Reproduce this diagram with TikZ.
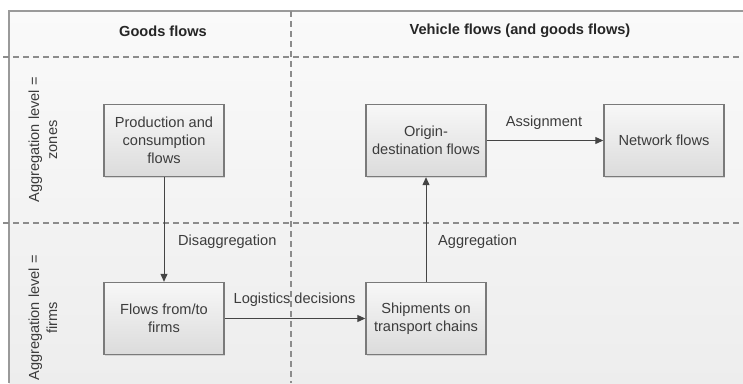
\documentclass[tikz,border=0pt]{standalone}
\usepackage{fontspec}
\setmainfont{Liberation Sans}
\usetikzlibrary{arrows.meta,shadows}
\definecolor{txt}{HTML}{3C3C3C}
\definecolor{frame}{HTML}{9A9A9A}
\definecolor{dash}{HTML}{8C8C8C}
\definecolor{boxline}{HTML}{7A7A7A}
\definecolor{arrowc}{HTML}{444444}
\tikzset{
  base/.style={font=\fontsize{14.6}{18}\selectfont, text=txt},
  flowbox/.style={base, draw=boxline, line width=1.4pt, minimum width=120pt, minimum height=72pt,
    align=center, top color=white!97!black, bottom color=white!86!black, inner sep=2pt,
    drop shadow={shadow xshift=1pt, shadow yshift=-1pt, opacity=0.25}},
  lbl/.style={base, inner sep=0pt},
  head/.style={base, font=\fontsize{14.6}{18}\selectfont\bfseries, text=black!85},
  side/.style={base, rotate=90, align=center},
  divider/.style={draw=dash, line width=1.3pt, dash pattern=on 6pt off 4pt},
  flow/.style={draw=arrowc, line width=1pt, -{Triangle[length=8pt,width=7pt]}}
}
\begin{document}
\begin{tikzpicture}[x=1pt,y=-1pt]
\useasboundingbox (0,0) rectangle (743,383);
\fill[white] (0,0) rectangle (743,383);
\shade[top color=white!98!black, bottom color=white!93!black] (9,11) rectangle (743,383);
% frame
\draw[frame, line width=1.6pt] (9,383) -- (9,11) -- (743,11);
% dividers
\draw[divider] (3,57) -- (743,57);
\draw[divider] (3,223) -- (743,223);
\draw[divider] (291,11) -- (291,383);
% headers
\node[head] (h1) at (163,31) {Goods flows};
\node[head] (h2) at (520,31) {Vehicle flows (and goods flows)};
% side labels
\node[side] (s1) at (43,140) {Aggregation level =\\zones};
\node[side] (s2) at (43,318) {Aggregation level =\\firms};
% boxes
\node[flowbox] (pc) at (164,140.5) {Production and\\consumption\\flows};
\node[flowbox] (od) at (426,140.5) {Origin-\\destination flows};
\node[flowbox] (nf) at (664,140.5) {Network flows};
\node[flowbox] (ff) at (164,318.5) {Flows from/to\\firms};
\node[flowbox] (sh) at (426,318.5) {Shipments on\\transport chains};
% arrows
\draw[flow] (pc) -- (ff);
\draw[flow] (ff) -- (sh);
\draw[flow] (sh) -- (od);
\draw[flow] (od) -- (nf);
% arrow labels
\node[lbl, anchor=west] (l1) at (178,242) {Disaggregation};
\node[lbl] (l2) at (294.5,300) {Logistics decisions};
\node[lbl, anchor=west] (l3) at (438,242) {Aggregation};
\node[lbl] (l4) at (544,123) {Assignment};
\end{tikzpicture}
\end{document}
